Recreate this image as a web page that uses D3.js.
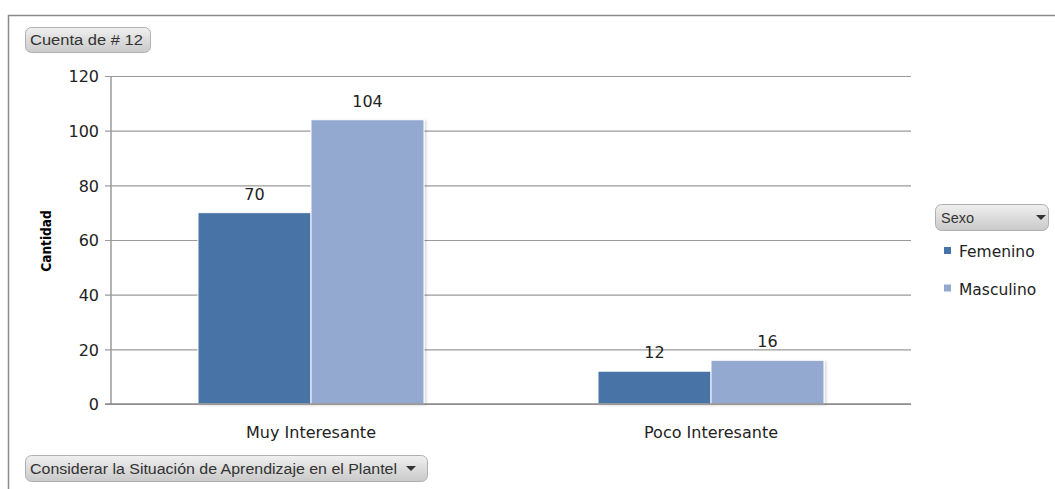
<!DOCTYPE html>
<html><head><meta charset="utf-8">
<script src="https://cdn.jsdelivr.net/npm/d3@7/dist/d3.min.js"></script>
<style>body{margin:0;background:#fff;}svg{display:block;}</style>
</head><body>
<svg id="chart" width="1055" height="489"></svg>
<script>
const categories = ["Muy Interesante", "Poco Interesante"];
const seriesNames = ["Femenino", "Masculino"];
const femenino = [70, 12];
const masculino = [104, 16];
const yTicks = [0, 20, 40, 60, 80, 100, 120];
const colors = ["#4673A7", "#94A9D0"];

const svg = d3.select("#chart");
const defs = svg.append("defs");
const grad = defs.append("linearGradient").attr("id","btn").attr("x1",0).attr("y1",0).attr("x2",0).attr("y2",1);
grad.append("stop").attr("offset","0%").attr("stop-color","#f0f0f0");
grad.append("stop").attr("offset","100%").attr("stop-color","#c9c9c9");
const sh = defs.append("filter").attr("id","sh").attr("x","-10%").attr("y","-10%").attr("width","130%").attr("height","130%");
sh.append("feDropShadow").attr("dx",2).attr("dy",1).attr("stdDeviation",1.2).attr("flood-color","#000").attr("flood-opacity",0.15);

// outer border
svg.append("path").attr("d","M8.5,500 L8.5,15.5 L1060,15.5").attr("fill","none").attr("stroke","#8a8a8a").attr("stroke-width",1.5);

const m = {left:111, right:911, top:76, bottom:404};
const y = d3.scaleLinear().domain([0,120]).range([m.bottom, m.top]);
const x0 = d3.scaleBand().domain(categories).range([m.left, m.right]).paddingInner(0).paddingOuter(0);
const x1 = d3.scaleBand().domain(seriesNames).range([0, x0.bandwidth()]).paddingOuter(0.77).paddingInner(0.0);

// gridlines + y axis
const yAxis = d3.axisLeft(y).tickValues(yTicks).tickSize(-(m.right - m.left)).tickSizeOuter(0).tickPadding(12);
const gy = svg.append("g").attr("transform",`translate(${m.left},0)`).call(yAxis);
gy.select(".domain").remove();
gy.selectAll(".tick line").attr("stroke","#9a9a9a").attr("x1",-6).attr("stroke-width",1.2);
gy.selectAll(".tick text").attr("font-family","DejaVu Sans").attr("font-size",16).attr("fill","#222").attr("dy","0.36em");
svg.append("line").attr("x1",m.left).attr("x2",m.left).attr("y1",m.top).attr("y2",m.bottom).attr("stroke","#9a9a9a").attr("stroke-width",1.5);

// bars
const data = categories.map((c,i)=>({cat:c, vals:[femenino[i], masculino[i]]}));
const groups = svg.append("g").selectAll("g").data(data).join("g").attr("transform",d=>`translate(${x0(d.cat)},0)`);
groups.selectAll("rect").data(d=>d.vals.map((v,j)=>({s:seriesNames[j], v, j}))).join("rect")
  .attr("x",d=>x1(d.s)).attr("width",x1.bandwidth()).attr("y",d=>y(d.v)).attr("height",d=>y(0)-y(d.v))
  .attr("fill",d=>colors[d.j]).attr("stroke","#ffffff").attr("stroke-width",1).attr("filter","url(#sh)");
groups.selectAll("text").data(d=>d.vals.map((v,j)=>({s:seriesNames[j], v, j}))).join("text")
  .attr("x",d=>x1(d.s)+x1.bandwidth()/2).attr("y",d=>y(d.v)-13)
  .attr("text-anchor","middle").attr("font-family","DejaVu Sans").attr("font-size",16).attr("fill","#222").text(d=>d.v);

// baseline
svg.append("line").attr("x1",m.left-6).attr("x2",m.right).attr("y1",y(0)).attr("y2",y(0)).attr("stroke","#8a8a8a").attr("stroke-width",1.5);

// category labels
const xAxis = d3.axisBottom(x0).tickSize(0).tickPadding(0);
const gx = svg.append("g").attr("transform",`translate(0,${m.bottom})`).call(xAxis);
gx.select(".domain").remove();
gx.selectAll(".tick text").attr("y",34).attr("dy",0).attr("font-family","DejaVu Sans").attr("font-size",16).attr("fill","#222");

// y title
svg.append("text").attr("transform","translate(51,241) rotate(-90)").attr("text-anchor","middle")
  .attr("font-family","DejaVu Sans Condensed, DejaVu Sans").attr("font-weight","bold").attr("font-size",13.5).attr("fill","#000").text("Cantidad");

// buttons
function button(x, yy, w, h, label, tx, tby, tlen, arrowX){
  svg.append("rect").attr("x",x+0.5).attr("y",yy+0.5).attr("width",w).attr("height",h).attr("rx",6)
    .attr("fill","url(#btn)").attr("stroke","#b0b0b0");
  svg.append("text").attr("x",tx).attr("y",tby).attr("font-family","Liberation Sans").attr("font-size",15.5).attr("fill","#333")
    .attr("textLength",tlen).attr("lengthAdjust","spacingAndGlyphs").text(label);
  if(arrowX!=null){
    const cy = yy + h/2;
    svg.append("path").attr("d",`M${arrowX-5},${cy-2} L${arrowX+5},${cy-2} L${arrowX},${cy+3} Z`).attr("fill","#333");
  }
}
button(25, 27, 125, 25, "Cuenta de # 12", 30, 45, 113, null);
button(25, 455, 402, 26, "Considerar la Situación de Aprendizaje en el Plantel", 30, 474, 367, 411);
button(935, 204, 113, 26, "Sexo", 941, 223, 33, 1041);

// legend
const leg = svg.append("g");
seriesNames.forEach((s,i)=>{
  const ly = 247 + i*37.5;
  leg.append("rect").attr("x",944).attr("y",ly).attr("width",7).attr("height",7).attr("fill",colors[i]);
  leg.append("text").attr("x",959).attr("y",ly+10).attr("font-family","DejaVu Sans").attr("font-size",15.5).attr("fill","#222").text(s);
});
</script>
</body></html>
